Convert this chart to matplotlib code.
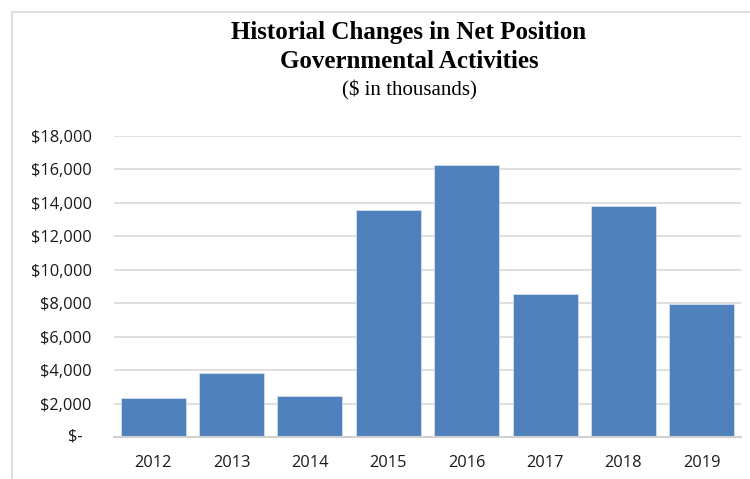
import matplotlib.pyplot as plt
import numpy as np
from matplotlib.ticker import FuncFormatter, MultipleLocator
from matplotlib.lines import Line2D

years = ['2012', '2013', '2014', '2015', '2016', '2017', '2018', '2019']
# Change in net position, $ in thousands
net_change = [2360, 3800, 2440, 13590, 16290, 8530, 13830, 7930]

bar_color = '#4F81BD'
grid_color = '#D9D9D9'
label_font = dict(family='Open Sans', fontsize=11.8, color='#1a1a1a')


# Zero is written separately below, accounting style
def dollars(v, pos):
    if v == 0:
        return ''
    return f'${v:,.0f}'


fig = plt.figure(figsize=(7.5, 4.79), dpi=100)
ax = fig.add_axes([114 / 750, 42 / 479, 627 / 750, 301 / 479])

x = np.arange(len(years))
ax.bar(x, net_change, width=0.83, color=bar_color, edgecolor='#DCE6F2',
       linewidth=0.5, zorder=3)

ax.set_xlim(-0.5, len(years) - 0.5)
ax.set_ylim(0, 18000)
ax.yaxis.set_major_locator(MultipleLocator(2000))
ax.yaxis.set_major_formatter(FuncFormatter(dollars))
ax.set_xticks(x)
ax.set_xticklabels(years)

ax.grid(axis='y', color=grid_color, linewidth=1.2, zorder=0)
for side in ['top', 'right', 'left']:
    ax.spines[side].set_visible(False)
ax.spines['bottom'].set_color('#D0D0D0')
ax.spines['bottom'].set_linewidth(1.5)
ax.spines['bottom'].set_zorder(4)
ax.tick_params(length=0, labelcolor='#1a1a1a')
ax.tick_params(axis='y', pad=16)
ax.tick_params(axis='x', pad=13)
for lab in ax.get_xticklabels() + ax.get_yticklabels():
    lab.set_family('Open Sans')
    lab.set_fontsize(11.8)

# "$-" for zero, set a bit further left than the other labels
ax.text(-31 / 627, 0, '$-', transform=ax.get_yaxis_transform(),
        ha='right', va='center', **label_font)

# Light frame along the top and left of the chart area
fig.add_artist(Line2D([11.5 / 750, 11.5 / 750], [0, 1 - 11.5 / 479],
                      transform=fig.transFigure, color=grid_color, lw=1.2))
fig.add_artist(Line2D([11.5 / 750, 1], [1 - 11.5 / 479, 1 - 11.5 / 479],
                      transform=fig.transFigure, color=grid_color, lw=1.2))

fig.text(409 / 750, 1 - 33 / 479, 'Historial Changes in Net Position',
         ha='center', va='center', family='Liberation Serif',
         fontweight='bold', fontsize=18)
fig.text(409 / 750, 1 - 62 / 479, 'Governmental Activities',
         ha='center', va='center', family='Liberation Serif',
         fontweight='bold', fontsize=18)
fig.text(409 / 750, 1 - 90 / 479, '($ in thousands)',
         ha='center', va='center', family='Liberation Serif', fontsize=15)

fig.savefig('out.png', dpi=100)
